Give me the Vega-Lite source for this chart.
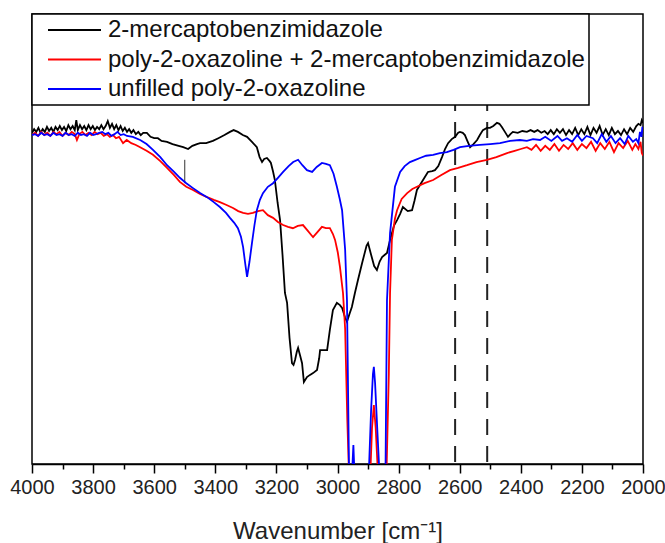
{
  "$schema": "https://vega.github.io/schema/vega-lite/v6.json",
  "width": 611,
  "height": 450,
  "autosize": {"type": "none"},
  "padding": {"left": 32, "top": 14, "right": 22, "bottom": 79},
  "background": "#ffffff",
  "config": {
    "font": "Liberation Sans",
    "view": {"stroke": "#000000", "strokeWidth": 1.5},
    "axis": {"grid": false},
    "legend": {"strokeColor": "#000000", "fillColor": "#ffffff", "strokeWidth": 1.5}
  },
  "datasets": {
    "mbi": [
      {"wn":4000,"t":73.6},{"wn":3993,"t":74.4},{"wn":3986,"t":73.8},{"wn":3979,"t":74.7},{"wn":3972,"t":73.6},{"wn":3965,"t":74.4},{"wn":3958,"t":73.8},{"wn":3951,"t":74.9},{"wn":3944,"t":74.0},{"wn":3937,"t":74.7},{"wn":3930,"t":73.8},{"wn":3923,"t":74.9},{"wn":3916,"t":74.2},{"wn":3909,"t":75.1},{"wn":3902,"t":74.2},{"wn":3895,"t":74.9},{"wn":3888,"t":74.0},{"wn":3881,"t":75.3},{"wn":3874,"t":74.4},{"wn":3867,"t":75.1},{"wn":3860,"t":74.2},{"wn":3855,"t":76.4},{"wn":3850,"t":74.2},{"wn":3843,"t":75.3},{"wn":3836,"t":74.4},{"wn":3829,"t":75.1},{"wn":3822,"t":74.2},{"wn":3815,"t":75.3},{"wn":3808,"t":74.4},{"wn":3801,"t":75.1},{"wn":3794,"t":74.2},{"wn":3787,"t":74.9},{"wn":3780,"t":74.4},{"wn":3773,"t":75.3},{"wn":3766,"t":74.4},{"wn":3759,"t":75.1},{"wn":3752,"t":76.2},{"wn":3745,"t":74.7},{"wn":3738,"t":75.6},{"wn":3731,"t":74.4},{"wn":3724,"t":75.3},{"wn":3717,"t":74.2},{"wn":3710,"t":75.1},{"wn":3703,"t":74.0},{"wn":3696,"t":74.7},{"wn":3689,"t":73.8},{"wn":3682,"t":74.4},{"wn":3675,"t":73.6},{"wn":3668,"t":74.2},{"wn":3660,"t":73.3},{"wn":3652,"t":73.8},{"wn":3644,"t":73.1},{"wn":3636,"t":73.6},{"wn":3624,"t":73.6},{"wn":3612,"t":72.7},{"wn":3600,"t":72.4},{"wn":3588,"t":72.4},{"wn":3576,"t":71.8},{"wn":3558,"t":71.6},{"wn":3540,"t":71.1},{"wn":3520,"t":70.7},{"wn":3505,"t":70.4},{"wn":3489,"t":70.0},{"wn":3475,"t":70.7},{"wn":3460,"t":71.1},{"wn":3450,"t":71.3},{"wn":3430,"t":71.3},{"wn":3408,"t":71.8},{"wn":3390,"t":72.4},{"wn":3370,"t":73.1},{"wn":3352,"t":73.8},{"wn":3340,"t":74.2},{"wn":3326,"t":73.8},{"wn":3310,"t":73.1},{"wn":3296,"t":72.7},{"wn":3280,"t":71.6},{"wn":3264,"t":70.4},{"wn":3255,"t":68.2},{"wn":3247,"t":67.1},{"wn":3240,"t":67.8},{"wn":3231,"t":68.0},{"wn":3222,"t":67.3},{"wn":3218,"t":66.9},{"wn":3211,"t":65.0},{"wn":3205,"t":63.1},{"wn":3196,"t":58.0},{"wn":3188,"t":54.2},{"wn":3180,"t":46.5},{"wn":3172,"t":38.0},{"wn":3165,"t":35.8},{"wn":3157,"t":28.0},{"wn":3149,"t":22.4},{"wn":3144,"t":22.0},{"wn":3139,"t":23.1},{"wn":3133,"t":25.0},{"wn":3129,"t":25.8},{"wn":3122,"t":24.0},{"wn":3116,"t":22.4},{"wn":3110,"t":18.2},{"wn":3100,"t":19.3},{"wn":3090,"t":19.8},{"wn":3080,"t":20.2},{"wn":3067,"t":20.9},{"wn":3060,"t":23.5},{"wn":3057,"t":25.3},{"wn":3045,"t":25.3},{"wn":3034,"t":25.3},{"wn":3025,"t":29.8},{"wn":3015,"t":34.2},{"wn":3002,"t":35.8},{"wn":2992,"t":35.3},{"wn":2985,"t":34.7},{"wn":2975,"t":32.5},{"wn":2969,"t":31.6},{"wn":2960,"t":33.5},{"wn":2953,"t":34.9},{"wn":2943,"t":38.0},{"wn":2933,"t":40.9},{"wn":2920,"t":44.5},{"wn":2905,"t":48.5},{"wn":2900,"t":49.1},{"wn":2890,"t":46.5},{"wn":2880,"t":44.0},{"wn":2871,"t":43.1},{"wn":2862,"t":45.0},{"wn":2854,"t":46.0},{"wn":2845,"t":46.5},{"wn":2838,"t":46.9},{"wn":2828,"t":49.8},{"wn":2815,"t":53.0},{"wn":2805,"t":54.2},{"wn":2795,"t":55.6},{"wn":2786,"t":57.1},{"wn":2770,"t":56.2},{"wn":2756,"t":56.4},{"wn":2748,"t":58.5},{"wn":2740,"t":60.9},{"wn":2730,"t":62.0},{"wn":2720,"t":63.1},{"wn":2704,"t":64.9},{"wn":2690,"t":65.1},{"wn":2681,"t":65.3},{"wn":2670,"t":66.2},{"wn":2658,"t":68.2},{"wn":2648,"t":70.0},{"wn":2638,"t":71.3},{"wn":2626,"t":72.2},{"wn":2615,"t":72.7},{"wn":2605,"t":73.6},{"wn":2599,"t":73.8},{"wn":2590,"t":73.6},{"wn":2583,"t":73.1},{"wn":2575,"t":71.8},{"wn":2566,"t":70.4},{"wn":2555,"t":71.1},{"wn":2543,"t":72.0},{"wn":2534,"t":73.1},{"wn":2524,"t":74.2},{"wn":2511,"t":74.7},{"wn":2501,"t":74.7},{"wn":2490,"t":75.1},{"wn":2478,"t":75.8},{"wn":2470,"t":75.6},{"wn":2462,"t":74.9},{"wn":2452,"t":73.8},{"wn":2442,"t":72.7},{"wn":2434,"t":73.3},{"wn":2426,"t":73.8},{"wn":2410,"t":73.6},{"wn":2395,"t":74.0},{"wn":2380,"t":73.8},{"wn":2368,"t":74.2},{"wn":2356,"t":73.8},{"wn":2345,"t":74.2},{"wn":2333,"t":73.6},{"wn":2322,"t":74.0},{"wn":2312,"t":73.3},{"wn":2302,"t":74.2},{"wn":2292,"t":73.3},{"wn":2282,"t":74.4},{"wn":2272,"t":73.6},{"wn":2262,"t":74.4},{"wn":2252,"t":73.1},{"wn":2242,"t":74.2},{"wn":2232,"t":73.3},{"wn":2222,"t":74.7},{"wn":2212,"t":73.1},{"wn":2202,"t":74.4},{"wn":2192,"t":73.3},{"wn":2182,"t":74.9},{"wn":2172,"t":73.1},{"wn":2162,"t":74.7},{"wn":2152,"t":73.6},{"wn":2142,"t":75.1},{"wn":2132,"t":73.1},{"wn":2122,"t":74.4},{"wn":2112,"t":73.1},{"wn":2102,"t":74.7},{"wn":2092,"t":73.3},{"wn":2082,"t":74.0},{"wn":2072,"t":73.1},{"wn":2062,"t":74.4},{"wn":2052,"t":73.3},{"wn":2042,"t":74.7},{"wn":2032,"t":73.8},{"wn":2022,"t":75.1},{"wn":2015,"t":75.6},{"wn":2008,"t":75.3},{"wn":2004,"t":76.4},{"wn":2000,"t":75.8}
    ],
    "mix": [
      {"wn":4000,"t":73.1},{"wn":3990,"t":73.6},{"wn":3980,"t":72.9},{"wn":3970,"t":73.8},{"wn":3960,"t":73.1},{"wn":3950,"t":73.6},{"wn":3940,"t":72.9},{"wn":3930,"t":73.8},{"wn":3920,"t":73.3},{"wn":3910,"t":73.8},{"wn":3900,"t":72.9},{"wn":3890,"t":73.6},{"wn":3880,"t":73.1},{"wn":3870,"t":73.8},{"wn":3860,"t":73.3},{"wn":3853,"t":72.0},{"wn":3845,"t":73.3},{"wn":3835,"t":73.8},{"wn":3825,"t":73.1},{"wn":3815,"t":73.6},{"wn":3805,"t":73.1},{"wn":3795,"t":73.8},{"wn":3785,"t":73.3},{"wn":3775,"t":73.6},{"wn":3765,"t":72.9},{"wn":3755,"t":73.3},{"wn":3745,"t":72.7},{"wn":3735,"t":73.1},{"wn":3725,"t":72.4},{"wn":3715,"t":72.7},{"wn":3702,"t":71.3},{"wn":3690,"t":72.0},{"wn":3675,"t":71.3},{"wn":3660,"t":70.9},{"wn":3646,"t":70.4},{"wn":3625,"t":69.6},{"wn":3604,"t":68.7},{"wn":3580,"t":67.3},{"wn":3558,"t":65.8},{"wn":3535,"t":64.2},{"wn":3516,"t":62.7},{"wn":3495,"t":61.6},{"wn":3473,"t":60.9},{"wn":3450,"t":60.0},{"wn":3427,"t":59.3},{"wn":3405,"t":58.7},{"wn":3385,"t":58.2},{"wn":3365,"t":57.6},{"wn":3342,"t":56.9},{"wn":3325,"t":56.2},{"wn":3309,"t":55.8},{"wn":3293,"t":55.6},{"wn":3277,"t":55.8},{"wn":3260,"t":56.2},{"wn":3244,"t":56.4},{"wn":3228,"t":55.3},{"wn":3211,"t":54.7},{"wn":3195,"t":53.8},{"wn":3178,"t":53.1},{"wn":3162,"t":52.7},{"wn":3146,"t":52.4},{"wn":3130,"t":52.9},{"wn":3113,"t":53.1},{"wn":3097,"t":51.8},{"wn":3080,"t":50.4},{"wn":3065,"t":51.6},{"wn":3051,"t":52.7},{"wn":3038,"t":52.4},{"wn":3025,"t":52.4},{"wn":3015,"t":51.1},{"wn":3008,"t":49.8},{"wn":2999,"t":47.0},{"wn":2992,"t":43.8},{"wn":2982,"t":38.0},{"wn":2975,"t":30.0},{"wn":2968,"t":10.0},{"wn":2962,"t":-3},{"wn":2893,"t":-3},{"wn":2887,"t":8.0},{"wn":2881,"t":13.1},{"wn":2875,"t":8.0},{"wn":2867,"t":-3},{"wn":2840,"t":-3},{"wn":2832,"t":20.0},{"wn":2828,"t":38.0},{"wn":2822,"t":49.8},{"wn":2812,"t":54.5},{"wn":2805,"t":56.4},{"wn":2790,"t":58.9},{"wn":2772,"t":60.2},{"wn":2755,"t":61.1},{"wn":2740,"t":61.6},{"wn":2715,"t":62.4},{"wn":2687,"t":63.1},{"wn":2660,"t":64.2},{"wn":2632,"t":65.3},{"wn":2605,"t":65.8},{"wn":2576,"t":66.4},{"wn":2545,"t":67.1},{"wn":2511,"t":67.6},{"wn":2480,"t":68.2},{"wn":2445,"t":69.1},{"wn":2420,"t":69.6},{"wn":2400,"t":70.0},{"wn":2380,"t":70.4},{"wn":2365,"t":69.8},{"wn":2350,"t":70.9},{"wn":2335,"t":69.6},{"wn":2320,"t":70.7},{"wn":2305,"t":69.8},{"wn":2290,"t":71.1},{"wn":2275,"t":69.6},{"wn":2260,"t":70.9},{"wn":2245,"t":70.0},{"wn":2230,"t":71.3},{"wn":2215,"t":69.8},{"wn":2200,"t":71.1},{"wn":2185,"t":70.2},{"wn":2170,"t":71.6},{"wn":2155,"t":69.6},{"wn":2140,"t":71.3},{"wn":2125,"t":70.0},{"wn":2110,"t":71.6},{"wn":2095,"t":69.3},{"wn":2080,"t":71.3},{"wn":2065,"t":70.2},{"wn":2050,"t":71.8},{"wn":2035,"t":69.8},{"wn":2025,"t":71.1},{"wn":2015,"t":70.0},{"wn":2008,"t":71.6},{"wn":2004,"t":69.1},{"wn":2000,"t":68.5}
    ],
    "pox": [
      {"wn":4000,"t":73.1},{"wn":3990,"t":73.3},{"wn":3980,"t":72.9},{"wn":3970,"t":73.6},{"wn":3960,"t":73.1},{"wn":3950,"t":73.3},{"wn":3940,"t":72.9},{"wn":3930,"t":73.6},{"wn":3920,"t":73.1},{"wn":3910,"t":73.3},{"wn":3900,"t":72.9},{"wn":3890,"t":73.6},{"wn":3880,"t":73.1},{"wn":3870,"t":73.3},{"wn":3860,"t":72.9},{"wn":3850,"t":73.6},{"wn":3840,"t":73.1},{"wn":3830,"t":73.3},{"wn":3820,"t":72.9},{"wn":3810,"t":73.6},{"wn":3800,"t":73.1},{"wn":3790,"t":73.3},{"wn":3780,"t":73.6},{"wn":3770,"t":73.8},{"wn":3760,"t":73.3},{"wn":3750,"t":73.6},{"wn":3740,"t":72.9},{"wn":3730,"t":73.3},{"wn":3720,"t":73.8},{"wn":3710,"t":73.1},{"wn":3700,"t":73.3},{"wn":3689,"t":72.9},{"wn":3670,"t":72.7},{"wn":3646,"t":72.0},{"wn":3625,"t":71.1},{"wn":3604,"t":69.8},{"wn":3580,"t":68.2},{"wn":3558,"t":66.4},{"wn":3535,"t":64.9},{"wn":3516,"t":63.6},{"wn":3495,"t":62.4},{"wn":3473,"t":61.3},{"wn":3450,"t":60.2},{"wn":3427,"t":59.3},{"wn":3405,"t":58.2},{"wn":3385,"t":57.1},{"wn":3365,"t":55.8},{"wn":3352,"t":54.7},{"wn":3338,"t":53.6},{"wn":3326,"t":52.4},{"wn":3316,"t":50.5},{"wn":3309,"t":48.2},{"wn":3302,"t":44.5},{"wn":3296,"t":41.6},{"wn":3288,"t":45.0},{"wn":3280,"t":49.1},{"wn":3272,"t":53.0},{"wn":3264,"t":56.4},{"wn":3254,"t":58.7},{"wn":3244,"t":60.2},{"wn":3228,"t":61.6},{"wn":3211,"t":62.4},{"wn":3195,"t":63.6},{"wn":3178,"t":64.9},{"wn":3160,"t":66.2},{"wn":3145,"t":67.1},{"wn":3129,"t":67.6},{"wn":3115,"t":66.4},{"wn":3100,"t":65.3},{"wn":3083,"t":64.9},{"wn":3068,"t":66.0},{"wn":3051,"t":66.9},{"wn":3038,"t":66.7},{"wn":3025,"t":66.4},{"wn":3013,"t":64.5},{"wn":3002,"t":61.6},{"wn":2993,"t":59.0},{"wn":2985,"t":56.4},{"wn":2975,"t":47.6},{"wn":2969,"t":36.4},{"wn":2962,"t":-3},{"wn":2953,"t":-3},{"wn":2948,"t":4.2},{"wn":2944,"t":-3},{"wn":2898,"t":-3},{"wn":2890,"t":12.0},{"wn":2884,"t":20.0},{"wn":2881,"t":21.6},{"wn":2877,"t":18.0},{"wn":2870,"t":8.0},{"wn":2862,"t":-3},{"wn":2843,"t":-3},{"wn":2838,"t":36.4},{"wn":2828,"t":51.3},{"wn":2812,"t":61.6},{"wn":2795,"t":64.9},{"wn":2780,"t":66.2},{"wn":2763,"t":67.1},{"wn":2745,"t":67.6},{"wn":2730,"t":68.0},{"wn":2710,"t":68.5},{"wn":2687,"t":68.7},{"wn":2665,"t":69.1},{"wn":2642,"t":69.3},{"wn":2620,"t":69.8},{"wn":2599,"t":70.4},{"wn":2570,"t":70.7},{"wn":2534,"t":70.9},{"wn":2500,"t":71.1},{"wn":2468,"t":71.3},{"wn":2435,"t":71.8},{"wn":2403,"t":72.0},{"wn":2380,"t":71.8},{"wn":2360,"t":72.2},{"wn":2337,"t":72.0},{"wn":2320,"t":72.7},{"wn":2300,"t":71.8},{"wn":2280,"t":72.9},{"wn":2265,"t":71.8},{"wn":2249,"t":72.4},{"wn":2232,"t":71.6},{"wn":2215,"t":73.1},{"wn":2200,"t":71.8},{"wn":2185,"t":72.9},{"wn":2164,"t":72.4},{"wn":2150,"t":71.3},{"wn":2135,"t":73.3},{"wn":2120,"t":71.6},{"wn":2105,"t":72.9},{"wn":2090,"t":71.3},{"wn":2075,"t":72.4},{"wn":2060,"t":71.1},{"wn":2048,"t":72.9},{"wn":2033,"t":71.6},{"wn":2022,"t":72.2},{"wn":2015,"t":71.3},{"wn":2010,"t":73.8},{"wn":2005,"t":72.7},{"wn":2002,"t":74.9},{"wn":2000,"t":73.6}
    ],
    "marks": [{"wn": 2615}, {"wn": 2510}],
    "tick": [{"wn": 3500, "y1": 62.4, "y2": 67.6}]
  },
  "encoding": {
    "x": {
      "field": "wn",
      "type": "quantitative",
      "scale": {"domain": [2000, 4000], "reverse": true, "nice": false, "zero": false},
      "axis": {
        "title": "Wavenumber [cm⁻¹]",
        "values": [2000,2100,2200,2300,2400,2500,2600,2700,2800,2900,3000,3100,3200,3300,3400,3500,3600,3700,3800,3900,4000],
        "format": "d",
        "labelExpr": "datum.value % 200 === 0 ? datum.label : ''",
        "tickSize": {"condition": {"test": "datum.value % 200 === 0", "value": 9}, "value": 5},
        "tickColor": "#000000",
        "tickWidth": 1.5,
        "domainColor": "#000000",
        "domainWidth": 1.5,
        "labelFontSize": 20,
        "labelColor": "#222222",
        "labelPadding": 4,
        "labelFlush": false,
        "labelOverlap": false,
        "titleFontSize": 24,
        "titleFontWeight": "normal",
        "titleColor": "#222222",
        "titlePadding": 22
      }
    }
  },
  "layer": [
    {
      "data": {"name": "marks"},
      "mark": {"type": "rule", "color": "#222222", "strokeWidth": 2, "strokeDash": [16, 11]},
      "encoding": {}
    },
    {
      "data": {"name": "tick"},
      "mark": {"type": "rule", "color": "#333333", "strokeWidth": 1},
      "encoding": {
        "y": {"field": "y1", "type": "quantitative", "scale": {"domain": [0, 100]}, "axis": null},
        "y2": {"field": "y2"}
      }
    },
    {
      "data": {"name": "mbi"},
      "mark": {"type": "line", "strokeWidth": 1.8, "clip": true},
      "encoding": {
        "y": {"field": "t", "type": "quantitative", "scale": {"domain": [0, 100]}, "axis": null},
        "color": {
          "datum": "2-mercaptobenzimidazole",
          "type": "nominal",
          "scale": {
            "domain": ["2-mercaptobenzimidazole", "poly-2-oxazoline + 2-mercaptobenzimidazole", "unfilled poly-2-oxazoline"],
            "range": ["#000000", "#ff0000", "#0000ff"]
          },
          "legend": {
            "title": null,
            "orient": "top-left",
            "offset": 0,
            "padding": 4,
            "symbolType": "stroke",
            "symbolSize": 2809,
            "symbolStrokeWidth": 2,
            "symbolOffset": 11,
            "labelOffset": 6,
            "labelFontSize": 24,
            "labelFont": "Liberation Sans",
            "labelColor": "#111111",
            "labelLimit": 0,
            "clipHeight": 24,
            "rowPadding": 5.5
          }
        }
      }
    },
    {
      "data": {"name": "mix"},
      "mark": {"type": "line", "strokeWidth": 1.8, "clip": true},
      "encoding": {
        "y": {"field": "t", "type": "quantitative", "scale": {"domain": [0, 100]}, "axis": null},
        "color": {"datum": "poly-2-oxazoline + 2-mercaptobenzimidazole", "type": "nominal"}
      }
    },
    {
      "data": {"name": "pox"},
      "mark": {"type": "line", "strokeWidth": 1.8, "clip": true},
      "encoding": {
        "y": {"field": "t", "type": "quantitative", "scale": {"domain": [0, 100]}, "axis": null},
        "color": {"datum": "unfilled poly-2-oxazoline", "type": "nominal"}
      }
    }
  ]
}
